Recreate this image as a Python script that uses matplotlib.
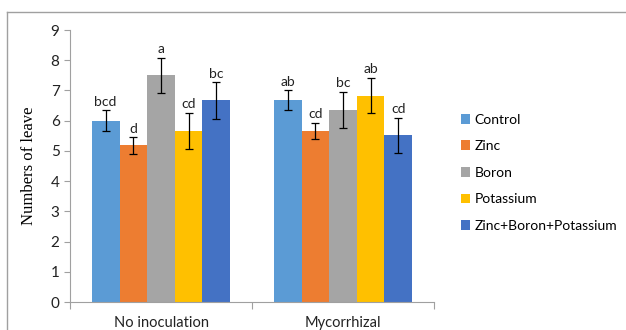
import numpy as np
import matplotlib.pyplot as plt
from matplotlib.lines import Line2D

groups = ["No inoculation", "Mycorrhizal"]
treatments = ["Control", "Zinc", "Boron", "Potassium", "Zinc+Boron+Potassium"]
colors = ["#5B9BD5", "#ED7D31", "#A5A5A5", "#FFC000", "#4472C4"]

# values per treatment: [No inoculation, Mycorrhizal]
means = {
    "Control": [6.0, 6.67],
    "Zinc": [5.18, 5.66],
    "Boron": [7.5, 6.35],
    "Potassium": [5.66, 6.83],
    "Zinc+Boron+Potassium": [6.67, 5.51],
}
errors = {
    "Control": [0.34, 0.33],
    "Zinc": [0.27, 0.26],
    "Boron": [0.58, 0.59],
    "Potassium": [0.6, 0.58],
    "Zinc+Boron+Potassium": [0.6, 0.58],
}
letters = {
    "Control": ["bcd", "ab"],
    "Zinc": ["d", "cd"],
    "Boron": ["a", "bc"],
    "Potassium": ["cd", "ab"],
    "Zinc+Boron+Potassium": ["bc", "cd"],
}

plt.rcParams["font.family"] = ["Lato", "DejaVu Sans"]

fig = plt.figure(figsize=(6.26, 3.30), dpi=100)
ax = fig.add_axes([70 / 626, 28 / 330, 364 / 626, 272 / 330])

x = np.arange(len(groups))
w = 0.152
for i, t in enumerate(treatments):
    pos = x + (i - 2) * w
    ax.bar(pos, means[t], w, color=colors[i], label=t, zorder=2)
    ax.errorbar(pos, means[t], yerr=errors[t], fmt="none", ecolor="black",
                elinewidth=0.9, capsize=3, capthick=0.9, zorder=3)
    for p, m, e, l in zip(pos, means[t], errors[t], letters[t]):
        ax.annotate(l, (p, m + e), xytext=(0, 2), textcoords="offset points",
                    ha="center", va="bottom", fontsize=10, color="#222222")

ax.set_xlim(-0.5, 1.5)
ax.set_ylim(0, 9)
ax.set_yticks(range(10))
ax.set_xticks([-0.5, 0.5, 1.5])
ax.set_xticklabels([])
ax.set_xticks(x, minor=True)
ax.set_xticklabels(groups, minor=True, fontsize=10.5, color="#222222")
ax.tick_params(axis="x", which="minor", length=0, pad=10)
ax.tick_params(axis="x", which="major", length=5, color="#A0A0A0")
ax.tick_params(axis="y", length=4, color="#A0A0A0", labelsize=11, labelcolor="#222222")

for s in ["top", "right"]:
    ax.spines[s].set_visible(False)
ax.spines["left"].set_color("#A0A0A0")
ax.spines["bottom"].set_color("#A0A0A0")

ax.set_ylabel("Numbers of leave", family="Liberation Serif", fontsize=12, labelpad=10)

ax.legend(loc="upper left", bbox_to_anchor=(455 / 626, 1 - 108 / 330),
          bbox_transform=fig.transFigure, frameon=False, fontsize=10,
          handlelength=0.7, handleheight=0.7, handletextpad=0.3,
          labelspacing=1.05, borderaxespad=0)

# outer chart border
fig.add_artist(Line2D([7 / 626, 1], [1 - 12 / 330, 1 - 12 / 330], color="#A0A0A0", lw=1))
fig.add_artist(Line2D([7 / 626, 7 / 626], [0, 1 - 12 / 330], color="#A0A0A0", lw=1))

fig.savefig("out.png", dpi=100)
